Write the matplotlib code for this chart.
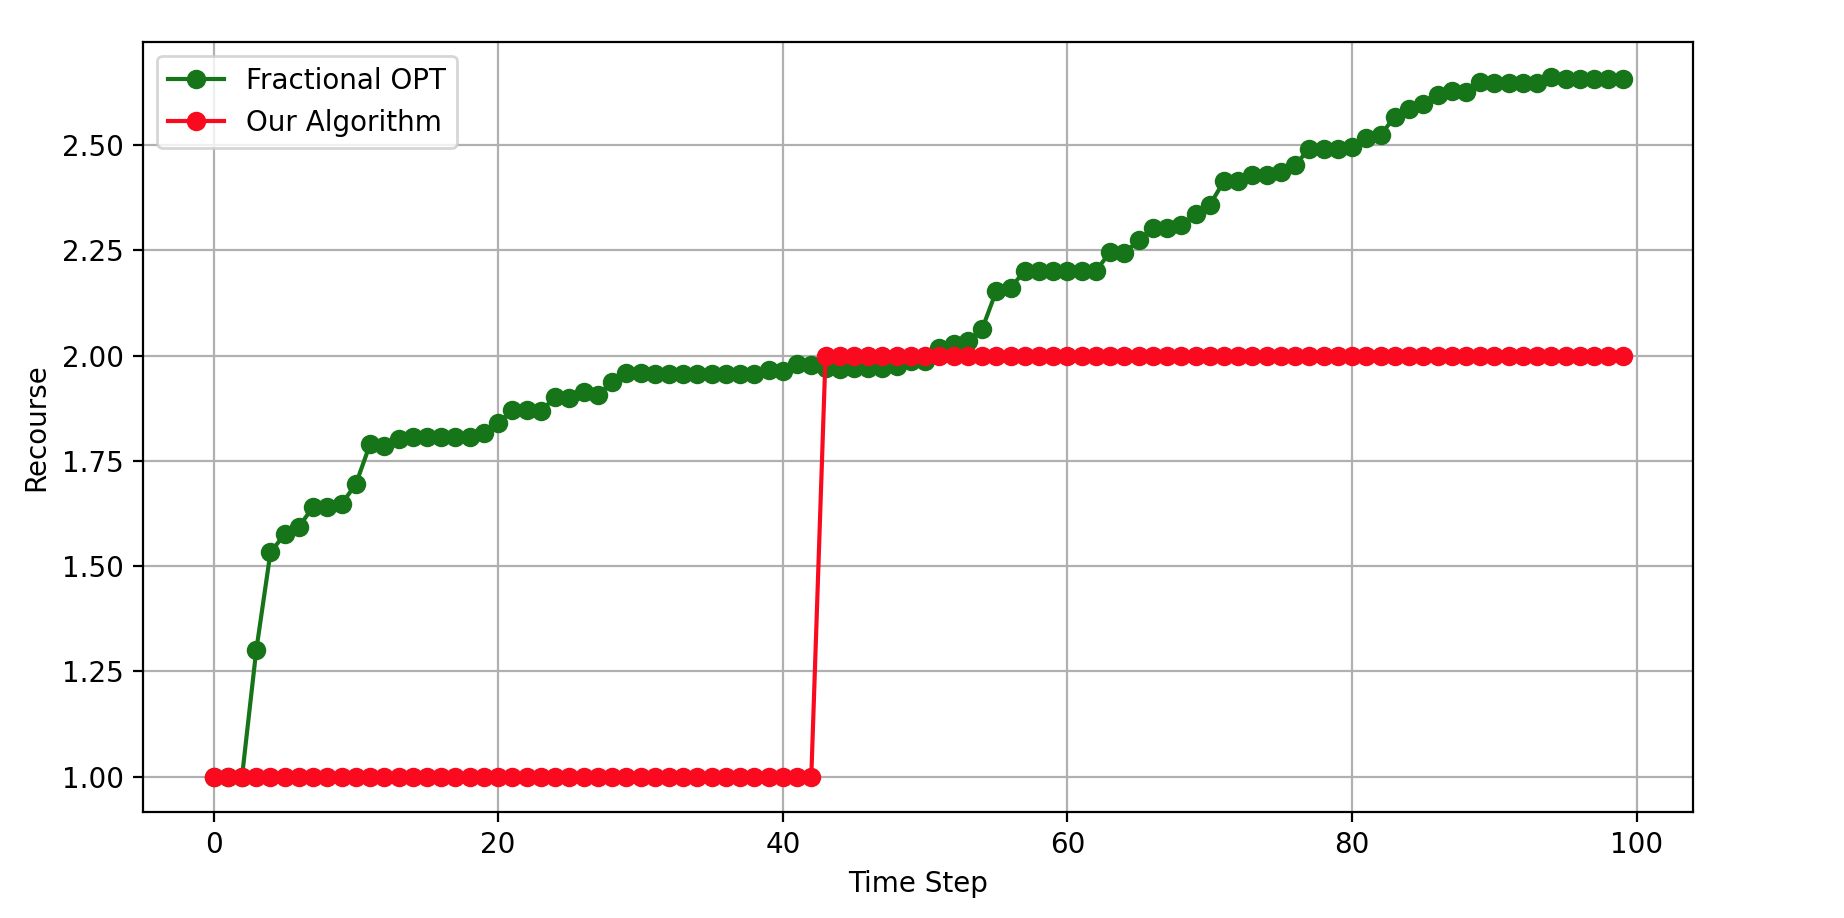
import numpy as np
import matplotlib
matplotlib.use("Agg")
import matplotlib.pyplot as plt

time_steps = np.arange(100)

fractional_opt = [
    1.000, 1.000, 1.000, 1.300, 1.533, 1.576, 1.594, 1.641, 1.641, 1.648,
    1.695, 1.790, 1.786, 1.802, 1.806, 1.806, 1.807, 1.807, 1.806, 1.816,
    1.840, 1.871, 1.871, 1.869, 1.901, 1.899, 1.913, 1.907, 1.938, 1.960,
    1.959, 1.956, 1.956, 1.956, 1.956, 1.956, 1.956, 1.956, 1.956, 1.966,
    1.963, 1.980, 1.978, 1.972, 1.968, 1.972, 1.972, 1.972, 1.976, 1.988,
    1.988, 2.018, 2.028, 2.035, 2.063, 2.154, 2.162, 2.201, 2.201, 2.201,
    2.201, 2.201, 2.201, 2.247, 2.244, 2.274, 2.303, 2.303, 2.311, 2.336,
    2.358, 2.415, 2.415, 2.429, 2.429, 2.437, 2.453, 2.492, 2.490, 2.490,
    2.496, 2.516, 2.524, 2.568, 2.587, 2.599, 2.620, 2.630, 2.627, 2.650,
    2.648, 2.648, 2.648, 2.648, 2.662, 2.658, 2.658, 2.658, 2.658, 2.658,
]

our_algorithm = [1.0] * 43 + [2.0] * 57

DPI = 200
fig = plt.figure(figsize=(1844 / DPI, 918 / DPI), dpi=DPI)
ax = fig.add_axes([0.0776, 0.1158, 0.8405, 0.8384])

ax.plot(time_steps, fractional_opt, marker="o", color="#167518",
        label="Fractional OPT")
ax.plot(time_steps, our_algorithm, marker="o", color="#fa0a1e",
        label="Our Algorithm")

ax.set_xlabel("Time Step")
ax.set_ylabel("Recourse")
ax.grid(True)
ax.legend(loc="upper left")

fig.savefig("out.png", dpi=DPI)
